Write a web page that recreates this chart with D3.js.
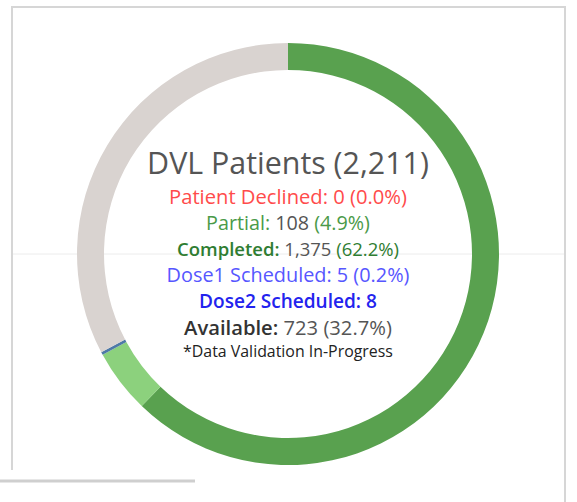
<!DOCTYPE html>
<html>
<head>
<meta charset="utf-8">
<script src="https://cdn.jsdelivr.net/npm/d3@7"></script>
<style>
  html, body { margin: 0; padding: 0; background: #fff; }
  svg { display: block; font-family: "Open Sans", sans-serif; }
</style>
</head>
<body>
<script>
// ring slices, clockwise from 12 o'clock
const categories = ['Completed', 'Partial', 'Dose1 Scheduled', 'Available'];
const values = [1375, 108, 5, 723];
const colors = ['#59a14f', '#8cd17d', '#4e79a7', '#d9d3d0'];

// counts that only show up in the label block
const declined = 0;
const dose2 = 8;

const W = 577, H = 502;
const cx = 288, cy = 254;
const outerR = 211, innerR = 184;

const total = d3.sum(values);
const num = d3.format(',');
const pct = v => '(' + d3.format('.1f')(v / total * 100) + '%)';
const val = name => values[categories.indexOf(name)];

const svg = d3.select('body').append('svg')
    .attr('width', W)
    .attr('height', H);

// sheet frame + the faint centre gridline behind the donut
svg.append('line')
    .attr('x1', 12).attr('x2', 565).attr('y1', cy).attr('y2', cy)
    .attr('stroke', '#ececec').attr('stroke-width', 1);

const frame = svg.append('g')
    .attr('stroke', '#d6d6d6')
    .attr('stroke-width', 2)
    .attr('fill', 'none');
frame.append('path').attr('d', 'M12,470 V7 H565 V502');
frame.append('line')
    .attr('x1', 0).attr('x2', 195).attr('y1', 481).attr('y2', 481)
    .attr('stroke', '#cfcfcf').attr('stroke-width', 3);

const pie = d3.pie()
    .sort(null)
    .value(d => d.value);

const arc = d3.arc()
    .innerRadius(innerR)
    .outerRadius(outerR);

const data = categories.map((c, i) => ({name: c, value: values[i], color: colors[i]}));

svg.append('g')
    .attr('transform', `translate(${cx},${cy})`)
  .selectAll('path')
  .data(pie(data))
  .join('path')
    .attr('d', arc)
    .attr('fill', d => d.data.color);

// label block: each line is a list of [text, colour, weight]
// w = width the line takes up in the dashboard, font gets sized to it
const lines = [
  {size: 28, w: 282, dy: 174, parts: [[`DVL Patients (${num(total)})`, '#555', 400]]},
  {size: 17, w: 238, dy: 204, parts: [[`Patient Declined: ${num(declined)} ${pct(declined)}`, '#ff4b4b', 400]]},
  {size: 17, w: 164, dy: 230, parts: [['Partial: ', '#4a9a48', 400], [num(val('Partial')) + ' ', '#555', 400], [pct(val('Partial')), '#4a9a48', 400]]},
  {size: 17, w: 222, dy: 256, parts: [['Completed: ', '#2f7d32', 600], [num(val('Completed')) + ' ', '#555', 400], [pct(val('Completed')), '#2f7d32', 400]]},
  {size: 17, w: 243, dy: 282, parts: [[`Dose1 Scheduled: ${num(val('Dose1 Scheduled'))} ${pct(val('Dose1 Scheduled'))}`, '#5656ff', 400]]},
  {size: 17, w: 178, dy: 308, parts: [[`Dose2 Scheduled: ${num(dose2)}`, '#2323ee', 600]]},
  {size: 17, w: 208, dy: 335, parts: [['Available: ', '#333', 600], [num(val('Available')) + ' ', '#555', 400], [pct(val('Available')), '#555', 400]]},
  {size: 13, w: 210, dy: 357, parts: [['*Data Validation In-Progress', '#222', 400]]}
];

const txt = svg.append('g')
    .attr('text-anchor', 'middle')
  .selectAll('text')
  .data(lines)
  .join('text')
    .attr('x', cx)
    .attr('y', d => d.dy)
    .attr('font-size', d => d.size);

txt.selectAll('tspan')
  .data(d => d.parts)
  .join('tspan')
    .attr('fill', d => d[1])
    .attr('font-weight', d => d[2])
    .style('white-space', 'pre')
    .text(d => d[0]);

// rescale each line so it spans what it spans in the original
txt.each(function(d) {
  const len = this.getComputedTextLength();
  if (len > 0) d3.select(this).attr('font-size', d.size * d.w / len);
});
</script>
</body>
</html>
